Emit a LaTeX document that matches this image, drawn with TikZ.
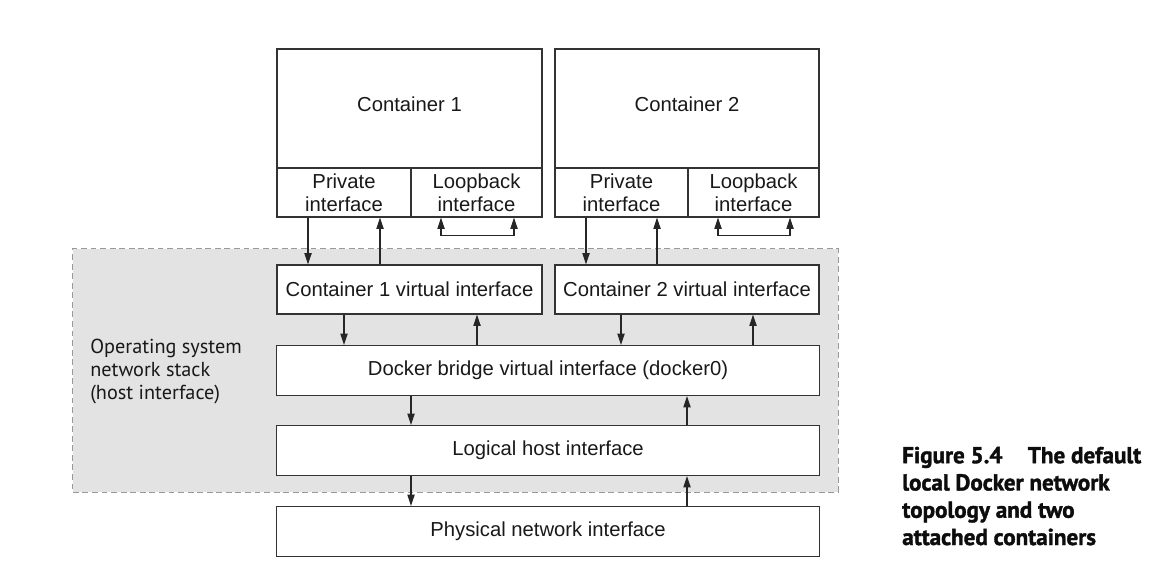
\documentclass[tikz,border=0pt]{standalone}
\usepackage{fontspec}
\setmainfont{Liberation Sans}
\newfontfamily\stackfont{PT Sans}
\newfontfamily\capfont[BoldFeatures={FakeBold=1.6}]{PT Sans}
\usetikzlibrary{arrows.meta}

\begin{document}
\begin{tikzpicture}[x=0.025cm,y=-0.025cm]
		\tikzstyle{box}=[draw=black!80,line width=0.8pt,fill=white,inner sep=0pt,align=center,text=black!90,font=\fontsize{14.4}{16.6}\selectfont]
		\tikzstyle{stack}=[draw=black!40,dash pattern=on 4.2pt off 2.6pt,line width=0.7pt,fill=black!11,inner sep=0pt]
		\tikzstyle{flow}=[draw=black!85,line width=0.8pt,-{Triangle[length=2.8mm,width=1.8mm]}]
		\tikzstyle{loopflow}=[draw=black!85,line width=0.8pt,{Triangle[length=2.8mm,width=1.8mm]}-{Triangle[length=2.8mm,width=1.8mm]}]

		\useasboundingbox (0,0) rectangle (1156,584);

		\node[stack,minimum width=19.125cm,minimum height=6.075cm] (hoststack) at (455.5,370.5) {};
		\node[anchor=west,align=left,inner sep=0pt,text=black!90,font=\stackfont\fontsize{14.4}{16.3}\selectfont] (stacklabel) at (90,371.5) {Operating system\\network stack\\(host interface)};

		\node[box,minimum width=6.625cm,minimum height=2.975cm,text depth=5.5pt] (cont1) at (409.5,108.5) {Container 1};
		\node[box,minimum width=6.6cm,minimum height=2.975cm,text depth=5.5pt] (cont2) at (687,108.5) {Container 2};
		\node[box,minimum width=3.35cm,minimum height=1.225cm] (priv1) at (344,192.5) {Private\\interface};
		\node[box,minimum width=3.275cm,minimum height=1.225cm] (lo1) at (476.5,192.5) {Loopback\\interface};
		\node[box,minimum width=3.325cm,minimum height=1.225cm] (priv2) at (621.5,192.5) {Private\\interface};
		\node[box,minimum width=3.275cm,minimum height=1.225cm] (lo2) at (753.5,192.5) {Loopback\\interface};

		\node[box,minimum width=6.625cm,minimum height=1.225cm] (virt1) at (409.5,289.5) {Container 1 virtual interface};
		\node[box,minimum width=6.6cm,minimum height=1.225cm] (virt2) at (687,289.5) {Container 2 virtual interface};
		\node[box,minimum width=13.55cm,minimum height=1.25cm] (bridge) at (548,370.5) {Docker bridge virtual interface (docker0)};
		\node[box,minimum width=13.55cm,minimum height=1.25cm] (host) at (548,450.5) {Logical host interface};
		\node[box,minimum width=13.55cm,minimum height=1.25cm] (phys) at (548,531.5) {Physical network interface};

		\node[anchor=north west,align=left,inner sep=0pt,text=black!95,font=\capfont\bfseries\fontsize{16.4}{19.4}\selectfont] (caption) at (902,446.5) {Figure 5.4\hspace{1.1em}The default\\local Docker network\\topology and two\\attached containers};

		\coordinate (p1down) at (308,0);
		\coordinate (p1up) at (380,0);
		\coordinate (l1a) at (441,0);
		\coordinate (l1b) at (514,0);
		\coordinate (p2down) at (586,0);
		\coordinate (p2up) at (657,0);
		\coordinate (l2a) at (718,0);
		\coordinate (l2b) at (790,0);
		\coordinate (v1down) at (344,0);
		\coordinate (v1up) at (477,0);
		\coordinate (v2down) at (621,0);
		\coordinate (v2up) at (753,0);
		\coordinate (hdown) at (411,0);
		\coordinate (hup) at (687,0);

		\draw[flow] (priv1.south -| p1down) -- (virt1.north -| p1down);
		\draw[flow] (virt1.north -| p1up) -- (priv1.south -| p1up);
		\draw[flow] (priv2.south -| p2down) -- (virt2.north -| p2down);
		\draw[flow] (virt2.north -| p2up) -- (priv2.south -| p2up);
		\draw[loopflow] (lo1.south -| l1a) -- ++(0,18) -| (lo1.south -| l1b);
		\draw[loopflow] (lo2.south -| l2a) -- ++(0,18) -| (lo2.south -| l2b);

		\draw[flow] (virt1.south -| v1down) -- (bridge.north -| v1down);
		\draw[flow] (bridge.north -| v1up) -- (virt1.south -| v1up);
		\draw[flow] (virt2.south -| v2down) -- (bridge.north -| v2down);
		\draw[flow] (bridge.north -| v2up) -- (virt2.south -| v2up);

		\draw[flow] (bridge.south -| hdown) -- (host.north -| hdown);
		\draw[flow] (host.north -| hup) -- (bridge.south -| hup);
		\draw[flow] (host.south -| hdown) -- (phys.north -| hdown);
		\draw[flow] (phys.north -| hup) -- (host.south -| hup);
	\end{tikzpicture}
\end{document}
